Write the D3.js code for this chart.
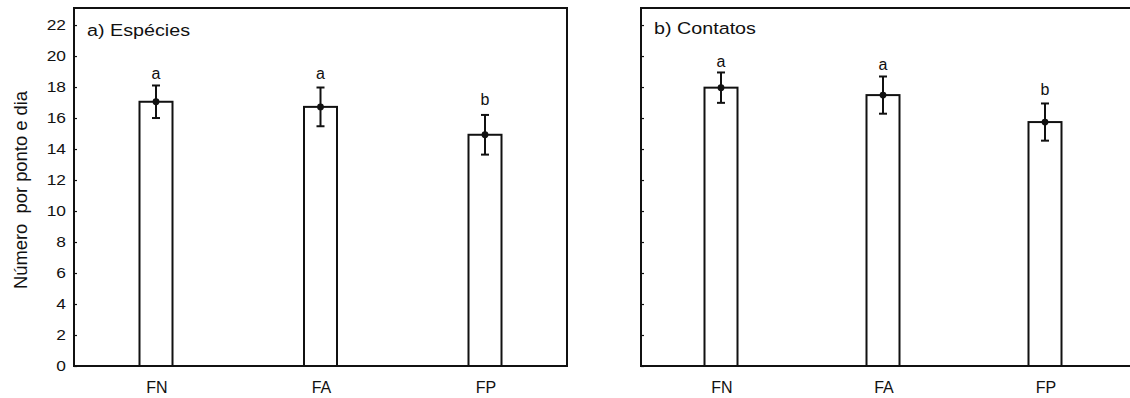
<!DOCTYPE html>
<html>
<head>
<meta charset="utf-8">
<script src="https://cdn.jsdelivr.net/npm/d3@7"></script>
<style>
  html, body { margin: 0; padding: 0; background: #fff; }
  svg { display: block; }
  text { font-family: "Liberation Sans", Arial, sans-serif; fill: #111; }
</style>
</head>
<body>
<svg id="chart" width="1130" height="398"></svg>
<script>
// ---- data ----
const categories = ["FN", "FA", "FP"];
const especiesMean = [17.05, 16.72, 14.92];
const especiesErr = [1.05, 1.25, 1.28];
const especiesLetters = ["a", "a", "b"];
const especiesLetterPos = [18.5, 18.5, 16.85];
const contatosMean = [17.96, 17.48, 15.74];
const contatosErr = [0.98, 1.2, 1.2];
const contatosLetters = ["a", "a", "b"];
const contatosLetterPos = [19.3, 19.1, 17.5];
const yTicks = [0, 2, 4, 6, 8, 10, 12, 14, 16, 18, 20, 22];
const panelTitles = ["a) Espécies", "b) Contatos"];
const yTitle = "Número  por ponto e dia";

// ---- layout ----
const svg = d3.select("#chart");
const plotTop = 8, plotBottom = 366;
const y = d3.scaleLinear().domain([0, 23.1]).range([plotBottom, plotTop]);

const panels = [
  { x0: 74, x1: 567, p0: 156, p1: 485, title: panelTitles[0], titleY: 36, showLabels: true,
    mean: especiesMean, err: especiesErr, letters: especiesLetters, letterPos: especiesLetterPos },
  { x0: 641, x1: 1134, p0: 721, p1: 1045, title: panelTitles[1], titleY: 34, showLabels: false,
    mean: contatosMean, err: contatosErr, letters: contatosLetters, letterPos: contatosLetterPos }
];

function hText(g, x, yy, str, size, sx, anchor) {
  return g.append("g").attr("transform", `translate(${x},${yy}) scale(${sx},1)`)
    .append("text").attr("x", 0).attr("y", 0)
    .attr("font-size", size).attr("text-anchor", anchor || "start")
    .style("white-space", "pre").text(str);
}

const barW = 33;
const stroke = "#111";

panels.forEach(p => {
  const g = svg.append("g");
  const x = d3.scalePoint().domain(categories).range([p.p0, p.p1]);

  // frame
  g.append("rect").attr("x", p.x0).attr("y", plotTop)
    .attr("width", p.x1 - p.x0).attr("height", plotBottom - plotTop)
    .attr("fill", "none").attr("stroke", stroke).attr("stroke-width", 2);

  // y axis ticks (inward)
  const yAxis = d3.axisRight(y).tickValues(yTicks).tickSize(3).tickFormat("");
  const ya = g.append("g").attr("transform", `translate(${p.x0},0)`).call(yAxis);
  ya.select(".domain").remove();
  ya.selectAll(".tick line").attr("stroke", stroke).attr("stroke-width", 1.2);

  if (p.showLabels) {
    yTicks.forEach(v => {
      hText(g, p.x0 - 8, y(v) + 5.3, String(v), 15.5, 1.12, "end");
    });
  }

  // x axis small ticks
  const xAxis = d3.axisTop(x).tickSize(2).tickFormat("");
  const xa = g.append("g").attr("transform", `translate(0,${plotBottom})`).call(xAxis);
  xa.select(".domain").remove();
  xa.selectAll(".tick line").attr("stroke", stroke).attr("stroke-width", 1);

  categories.forEach(c => {
    g.append("text").attr("x", x(c) + 1).attr("y", 392.5)
      .attr("font-size", 16).attr("text-anchor", "middle").text(c);
  });

  // title
  hText(g, p.x0 + 13, p.titleY, p.title, 17.3, 1.14, "start");

  // bars
  g.selectAll("rect.bar").data(categories).enter().append("rect")
    .attr("class", "bar")
    .attr("x", c => x(c) - barW / 2)
    .attr("y", (c, i) => y(p.mean[i]))
    .attr("width", barW)
    .attr("height", (c, i) => y(0) - y(p.mean[i]))
    .attr("fill", "#fff").attr("stroke", stroke).attr("stroke-width", 2);

  // error bars
  categories.forEach((c, i) => {
    const cx = x(c);
    const hi = y(p.mean[i] + p.err[i]);
    const lo = y(p.mean[i] - p.err[i]);
    g.append("line").attr("x1", cx).attr("x2", cx).attr("y1", hi).attr("y2", lo)
      .attr("stroke", stroke).attr("stroke-width", 2);
    [hi, lo].forEach(yy => {
      g.append("line").attr("x1", cx - 4).attr("x2", cx + 4).attr("y1", yy).attr("y2", yy)
        .attr("stroke", stroke).attr("stroke-width", 2);
    });
    g.append("circle").attr("cx", cx).attr("cy", y(p.mean[i])).attr("r", 3.4).attr("fill", stroke);
    g.append("text").attr("x", cx).attr("y", y(p.letterPos[i]))
      .attr("font-size", 16).attr("text-anchor", "middle").text(p.letters[i]);
  });
});

// y title
svg.append("g").attr("transform", `translate(27,190) rotate(-90) scale(1.05,1)`)
  .append("text").attr("font-size", 17.5).attr("text-anchor", "middle")
  .style("white-space", "pre").text(yTitle);
</script>
</body>
</html>
